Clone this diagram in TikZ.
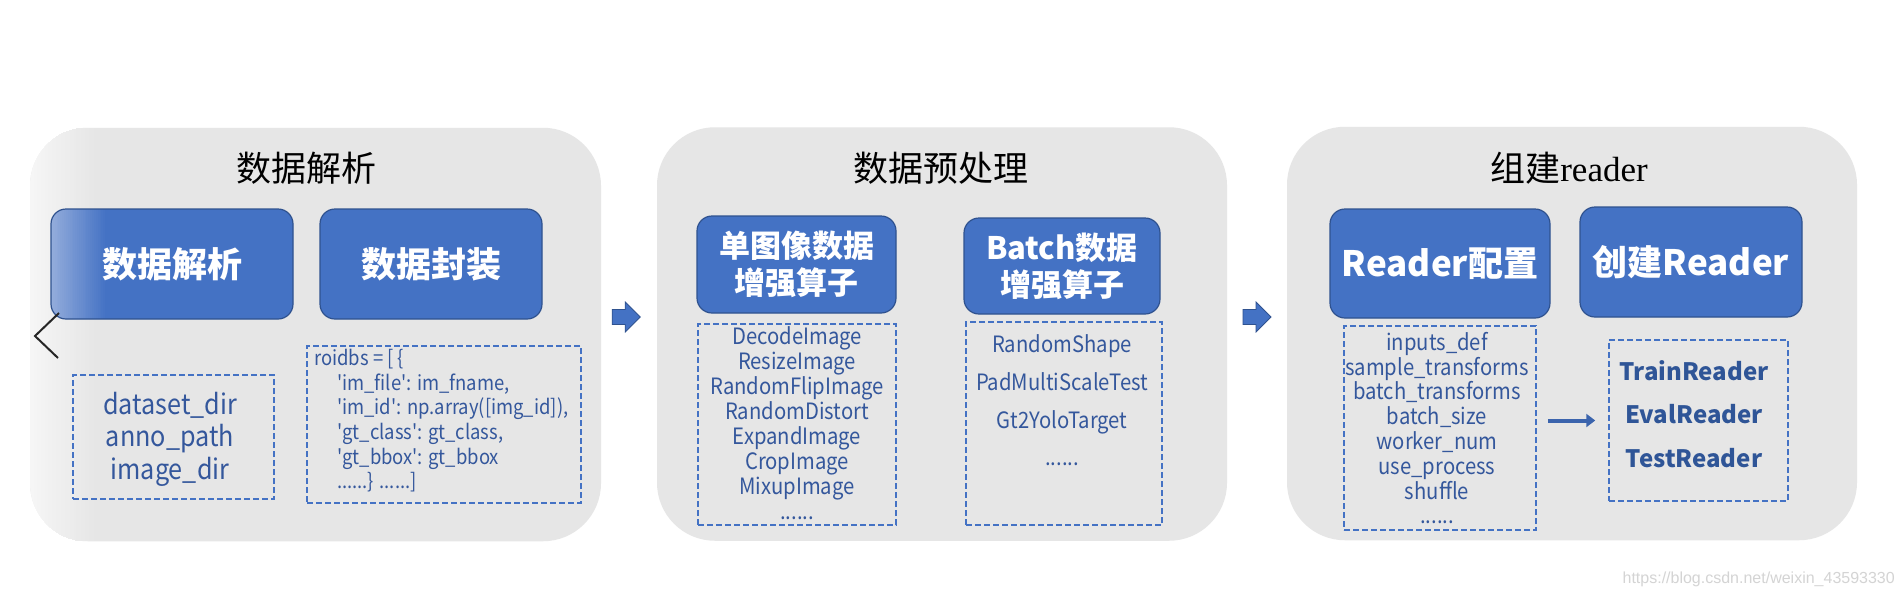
\documentclass[tikz,border=0pt]{standalone}
\usepackage{fontspec}
\usetikzlibrary{calc,arrows.meta}
\newfontfamily\cjk{Noto Sans CJK SC}
\newfontfamily\lstf[FakeStretch=0.9,Ligatures=TeXOff]{Noto Sans CJK SC}
\newfontfamily\serifl{Liberation Serif}
\newfontfamily\wmf{Liberation Sans}
\newcommand\sixdots{......}
\definecolor{panelgray}{HTML}{E6E6E6}
\definecolor{panelleft}{HTML}{F6F6F6}
\definecolor{boxblue}{HTML}{4472C4}
\definecolor{boxlight}{HTML}{93ACDB}
\definecolor{boxborder}{HTML}{2F528F}
\definecolor{dashblue}{HTML}{4472C4}
\definecolor{textblue}{HTML}{34579C}
\definecolor{readerblue}{HTML}{2F5597}
\definecolor{arrowblue}{HTML}{3B64AD}
\tikzset{
  panel/.style={fill=panelgray, draw=none, rounded corners=58pt, inner sep=0pt, minimum height=413.5pt},
  bluebox/.style={fill=boxblue, draw=boxborder, line width=1.2pt, rounded corners=15pt, text=white, align=center, inner sep=0pt},
  bigf/.style={font=\cjk\bfseries\fontsize{35}{40}\selectfont},
  twof/.style={font=\cjk\bfseries\fontsize{31}{37}\selectfont},
  dashbox/.style={draw=dashblue, dash pattern=on 6pt off 3pt, line width=1.5pt, inner sep=0pt},
  lst/.style={text=textblue, anchor=base, inner sep=0pt, font=\lstf\fontsize{22.5}{25}\selectfont},
  lstbig/.style={lst, font=\lstf\fontsize{28}{32}\selectfont},
  lstsmall/.style={lst, anchor=base west, font=\lstf\fontsize{20.5}{25}\selectfont},
  lstbold/.style={lst, text=readerblue, font=\cjk\bfseries\fontsize{24}{28}\selectfont},
  ttl/.style={font=\cjk\fontsize{35}{40}\selectfont, text=black, inner sep=0pt},
  blockarrow/.style={fill=boxblue, draw=boxborder, line width=0.8pt},
  rarrow/.style={draw=arrowblue, line width=4pt, -{Triangle[length=9pt,width=13pt]}, shorten <=11pt, shorten >=13pt},
  % left-edge fade: overlapping strips, #1 = left colour, #2 = right colour, #3 = fade width
  leftfade/.style n args={3}{path picture={
    \foreach \k in {0,...,29}{
      \pgfmathsetmacro\pc{100*\k/29}
      \fill[#2!\pc!#1, sharp corners] ($(path picture bounding box.north west)+(#3*\k/30,0)$) rectangle ($(path picture bounding box.south west)+(#3,0)$);
    }}}
}
\begin{document}
\begin{tikzpicture}[x=1pt,y=-1pt]
\useasboundingbox[fill=white] (0,0) rectangle (1904,595);

% panels
\node[panel, minimum width=571pt, leftfade={panelleft}{panelgray}{66}] (p1) at (315.5,334.5) {};
\node[panel, minimum width=570pt] (p2) at (942,334) {};
\node[panel, minimum width=570pt] (p3) at (1572,333.5) {};

% titles
\node[ttl] (t1) at (306,168) {数据解析};
\node[ttl] (t2) at (941,168) {数据预处理};
\node[ttl] (t3) at (1569,168) {组建{\serifl reader}};

% blue boxes
\node[bluebox, bigf, minimum width=242pt, minimum height=110pt, leftfade={boxlight}{boxblue}{56}] (b1) at (172,264) {数据解析};
\node[bluebox, bigf, minimum width=222pt, minimum height=110pt] (b2) at (431,264) {数据封装};
\node[bluebox, twof, minimum width=199pt, minimum height=97pt] (b3) at (796.5,264.5) {单图像数据\\增强算子};
\node[bluebox, twof, minimum width=196pt, minimum height=96pt] (b4) at (1062,266) {Batch数据\\增强算子};
\node[bluebox, bigf, minimum width=220pt, minimum height=109pt] (b5) at (1440,263.5) {Reader配置};
\node[bluebox, bigf, minimum width=222pt, minimum height=110pt] (b6) at (1691,262) {创建Reader};

% dashed boxes
\node[dashbox, minimum width=201pt, minimum height=124pt] (d1) at (173.5,437) {};
\node[dashbox, minimum width=274pt, minimum height=157pt] (d2) at (444,424.5) {};
\node[dashbox, minimum width=198pt, minimum height=201pt] (d3) at (797,424.5) {};
\node[dashbox, minimum width=196pt, minimum height=203pt] (d4) at (1064,423.5) {};
\node[dashbox, minimum width=192pt, minimum height=204pt] (d5) at (1440,428) {};
\node[dashbox, minimum width=179pt, minimum height=161pt] (d6) at (1698.5,420.5) {};

% list d1
\node[lstbig] (d1a) at (170,414) {dataset\_dir};
\node[lstbig] (d1b) at (170,446.5) {anno\_path};
\node[lstbig] (d1c) at (170,479) {image\_dir};

% list d2
\node[lstsmall] (d2a) at (314,365) {roidbs = [ \{};
\node[lstsmall] (d2b) at (337,390) {'im\_file': im\_fname,};
\node[lstsmall] (d2c) at (337,414.5) {'im\_id': np.array([img\_id]),};
\node[lstsmall] (d2d) at (337,439) {'gt\_class': gt\_class,};
\node[lstsmall] (d2e) at (337,464) {'gt\_bbox': gt\_bbox};
\node[lstsmall] (d2f) at (337,488.5) {\sixdots\} \sixdots]};

% list d3
\foreach [count=\i] \t/\y in {DecodeImage/344, ResizeImage/369, RandomFlipImage/394, RandomDistort/419, ExpandImage/444, CropImage/469, MixupImage/494, \sixdots/519}
  \node[lst] (d3l\i) at (797,\y) {\t};

% list d4
\foreach [count=\i] \t/\y in {RandomShape/352, PadMultiScaleTest/390, Gt2YoloTarget/428, \sixdots/465}
  \node[lst] (d4l\i) at (1062,\y) {\t};

% list d5
\foreach [count=\i] \t/\y in {inputs\_def/350, sample\_transforms/375, batch\_transforms/399.5, batch\_size/424.5, worker\_num/449.5, use\_process/474.5, shuffle/499.5, \sixdots/523}
  \node[lst] (d5l\i) at (1437,\y) {\t};

% list d6
\foreach [count=\i] \t/\y in {TrainReader/380, EvalReader/423, TestReader/467}
  \node[lstbold] (d6l\i) at (1694,\y) {\t};

% arrow inside panel 3
\draw[rarrow] (d5.east |- d6.west) -- (d6.west);

% block arrows between panels
\coordinate (a1) at ($(p1.east)!0.45!(p2.west)$);
\coordinate (a2) at ($(p2.east)!0.5!(p3.west)$);
\draw[blockarrow, shift={(a1 |- 0,317)}] (-14,-7.5) -- (-1,-7.5) -- (-1,-15) -- (14,0) -- (-1,15) -- (-1,7.5) -- (-14,7.5) -- cycle;
\draw[blockarrow, shift={(a2 |- 0,317)}] (-14,-7.5) -- (-1,-7.5) -- (-1,-15) -- (14,0) -- (-1,15) -- (-1,7.5) -- (-14,7.5) -- cycle;

% chevron
\draw[line width=2pt, black!85] (59,313) -- (35,336) -- (58,358);

% watermark
\node[font=\wmf\fontsize{16}{18}\selectfont, text=black!17, anchor=base east, inner sep=0pt] (wm) at (1895,583) {https://blog.csdn.net/weixin\_43593330};
\end{tikzpicture}
\end{document}
